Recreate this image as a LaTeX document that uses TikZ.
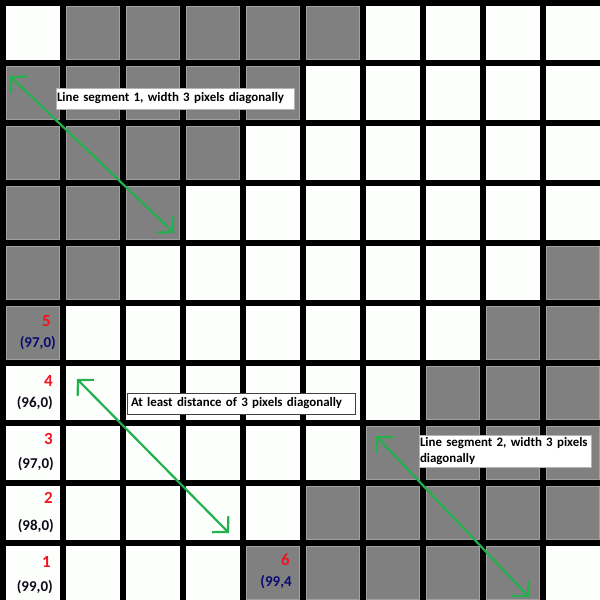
\documentclass[tikz,border=0pt]{standalone}
\usepackage{fontspec}
\setmainfont{Carlito}
\usetikzlibrary{arrows.meta}
\definecolor{cellgray}{RGB}{128,128,128}
\definecolor{celledge}{RGB}{160,160,160}
\definecolor{cellwhite}{RGB}{253,255,253}
\definecolor{arrowgreen}{RGB}{34,177,76}
\definecolor{numred}{RGB}{240,20,30}
\definecolor{navy}{RGB}{10,10,110}
\definecolor{darktext}{RGB}{15,10,25}
\tikzset{
  whitecell/.style={fill=cellwhite},
  graycell/.style={fill=cellgray, draw=celledge, line width=1pt},
  callout/.style={fill=white, line width=1pt, font=\bfseries\fontsize{12.9}{16}\selectfont, text=black, align=left, inner ysep=0pt},
  dblarrow/.style={draw=arrowgreen, line width=2.2pt, {Straight Barb[length=11pt,width=23pt]}-{Straight Barb[length=11pt,width=23pt]}},
  rownum/.style={font=\bfseries\fontsize{17}{18}\selectfont, text=numred, inner sep=0pt, anchor=base east},
  rowpos/.style={font=\bfseries\fontsize{15}{18}\selectfont, text=darktext, inner sep=0pt, anchor=base east}
}
\begin{document}
\begin{tikzpicture}[x=1pt,y=-1pt]
\useasboundingbox (0,0) rectangle (600,600);
\fill[black] (0,0) rectangle (600,600);
% white cells
\foreach \c in {0,...,9} {
  \foreach \r in {0,...,9} {
    \fill[whitecell] ({60*\c+6},{60*\r+6}) rectangle ({60*\c+60},{60*\r+60});
  }
}
% gray cells
\foreach \c/\r in {1/0,2/0,3/0,4/0,5/0,
                   0/1,1/1,2/1,3/1,4/1,
                   0/2,1/2,2/2,3/2,
                   0/3,1/3,2/3,
                   0/4,1/4,9/4,
                   0/5,8/5,9/5,
                   7/6,8/6,9/6,
                   6/7,7/7,8/7,9/7,
                   5/8,6/8,7/8,8/8,9/8,
                   4/9,5/9,6/9,7/9,8/9} {
  \filldraw[graycell] ({60*\c+6.5},{60*\r+6.5}) rectangle ({60*\c+59.5},{60*\r+59.5});
}
% row labels
\node[rownum] (n5) at (51,326) {5};
\node[rowpos, text=navy] (p5) at (56,347) {(97,0)};
\node[rownum] (n4) at (53,386) {4};
\node[rowpos] (p4) at (53,407) {(96,0)};
\node[rownum] (n3) at (53,444) {3};
\node[rowpos] (p3) at (54,468) {(97,0)};
\node[rownum] (n2) at (53,503) {2};
\node[rowpos] (p2) at (54,530) {(98,0)};
\node[rownum] (n1) at (51,567) {1};
\node[rowpos] (p1) at (53,591) {(99,0)};
\node[rownum] (n6) at (290,565) {6};
\node[rowpos, text=navy] (p6) at (292,586) {(99,4};
% callouts
\node[callout, draw=celledge!80, text width=236pt, inner xsep=1pt, minimum height=21pt] (c1) at (175,98.5) {Line segment 1, width 3 pixels diagonally};
\node[callout, draw=black!75, text width=220pt, inner xsep=4pt, minimum height=21pt] (c2) at (241,403.5) {At least distance of 3 pixels diagonally};
\node[callout, draw=celledge!80, text width=170pt, inner xsep=1pt, minimum height=32pt] (c3) at (505,451) {Line segment 2, width 3 pixels\\diagonally};
% arrows
\coordinate (a1s) at (10,76);
\coordinate (a1e) at (174,233);
\coordinate (a2s) at (77,379);
\coordinate (a2e) at (229,533);
\coordinate (a3s) at (376,436);
\coordinate (a3e) at (529,597);
\draw[dblarrow] (a1s) -- (a1e);
\draw[dblarrow] (a2s) -- (a2e);
\draw[dblarrow] (a3s) -- (a3e);
\end{tikzpicture}
\end{document}
